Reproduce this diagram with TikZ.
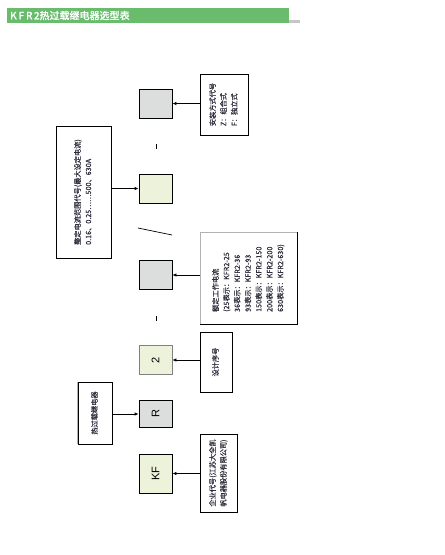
\documentclass[tikz,border=0pt]{standalone}
\usepackage{fontspec}
\setmainfont{Liberation Sans}
\newfontfamily\cjk[FakeBold=0.4]{Noto Sans CJK SC}
\newfontfamily\cjkb[FakeBold=2]{Noto Sans CJK SC}
\usetikzlibrary{arrows.meta}
\definecolor{titlegreen}{RGB}{104,188,108}
\definecolor{boxgray}{RGB}{220,221,221}
\definecolor{boxgreen}{RGB}{236,243,218}
\definecolor{txtc}{RGB}{45,45,60}
\newcommand{\vtext}[1]{\rotatebox{90}{\cjk\fontsize{7.2}{10.8}\selectfont\begin{tabular}{@{}l@{}}#1\end{tabular}}}
\tikzset{
  smallbox/.style={draw, line width=0.8pt, minimum width=33pt, minimum height=29pt, inner sep=0pt, font=\fontsize{11}{13}\selectfont},
  bigbox/.style={draw, line width=0.8pt, inner sep=0pt, text=txtc},
  arr/.style={line width=0.8pt, -{Latex[length=4pt,width=3.5pt]}},
  sep/.style={line width=0.8pt}
}
\begin{document}
\begin{tikzpicture}[x=1pt,y=-1pt]
\useasboundingbox (0,0) rectangle (445,555);
% title bar
\fill[titlegreen] (7,8) rectangle (289,23);
\fill[gray!45] (289,20) rectangle (300,23);
\node[anchor=west, text=white, inner sep=0pt] (title) at (10,15.5)
  {\cjkb\fontsize{10}{12}\selectfont K\hspace{2pt}F\hspace{2pt}R\hspace{1.5pt}2热过载继电器选型表};

% code boxes
\node[smallbox, fill=boxgray] (g1) at (155.5,103.5) {};
\node[smallbox, fill=boxgreen] (g2) at (155.5,188.5) {};
\node[smallbox, fill=boxgray] (g3) at (155.5,275) {};
\node[smallbox, fill=boxgreen, draw=gray] (g4) at (155.5,360) {\rotatebox{90}{2}};
\node[smallbox, fill=boxgray, minimum height=27pt] (g5) at (155.5,414) {\rotatebox{90}{R}};
\node[smallbox, fill=boxgreen, minimum height=39pt] (g6) at (155.5,473.5) {\rotatebox{90}{KF}};

% separators
\draw[sep] (156,144) -- (156,149);
\draw[sep] (156,316) -- (156,321);
\draw[line width=0.7pt] (138,228) -- (172,235);

% description boxes
\node[bigbox, minimum width=48pt, minimum height=61pt] (t1) at (224,104.5)
  {\vtext{安装方式代号\\Z：组合式\\F：独立式}};
\node[bigbox, minimum width=55pt, minimum height=132pt] (t2) at (83.5,192)
  {\vtext{整定电流范围代号(最大设定电流)\\0.16、0.25……500、630A}};
\node[bigbox, draw=gray!60, minimum width=97pt, minimum height=92pt] (t3) at (248.5,278)
  {\vtext{额定工作电流\\(25表示：KFR2-25\\36表示：KFR2-36\\93表示：KFR2-93\\150表示：KFR2-150\\200表示：KFR2-200\\630表示：KFR2-630)}};
\draw[line width=0.8pt] (t3.north east) -- (t3.south east) -- (t3.south west);
\node[bigbox, minimum width=32pt, minimum height=60pt] (t4) at (216,362)
  {\vtext{设计序号}};
\node[bigbox, minimum width=34pt, minimum height=62pt] (t5) at (95,413)
  {\vtext{热过载继电器}};
\draw[gray!60, line width=0.8pt] (t5.south west) -- (t5.north west);
\node[bigbox, minimum width=37pt, minimum height=78pt] (t6) at (218.5,473)
  {\vtext{企业代号(江苏大全凯\\帆电器股份有限公司)}};

% connectors
\draw[arr] (t1.west |- g1.east) -- (g1.east);
\draw[arr] (t2.east |- g2.west) -- (g2.west);
\draw[arr] (t3.west |- g3.east) -- (g3.east);
\draw[arr] (t4.west |- g4.east) -- (g4.east);
\draw[arr] (t5.east |- g5.west) -- (g5.west);
\draw[arr] (t6.west |- g6.east) -- (g6.east);
\end{tikzpicture}
\end{document}
